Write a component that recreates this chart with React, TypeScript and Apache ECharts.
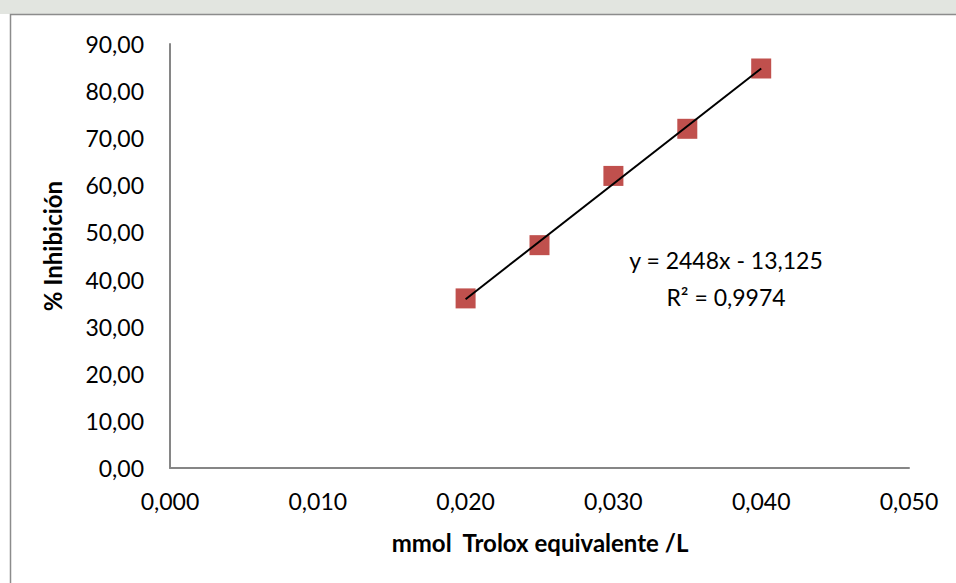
import React, { useEffect, useRef } from "react";
import * as echarts from "echarts";

// Trolox calibration: concentration (mmol/L) vs % inhibition
const concentrations = [0.02, 0.025, 0.03, 0.035, 0.04];
const inhibition = [36.0, 47.3, 62.0, 72.0, 84.8];

// Linear fit y = slope * x + intercept, as reported on the chart
const fitSlope = 2448;
const fitIntercept = -13.125;
const fitR2Label = "0,9974";

const xTicks = [0, 0.01, 0.02, 0.03, 0.04, 0.05];
const yTicks = [0, 10, 20, 30, 40, 50, 60, 70, 80, 90];

const FONT = "Lato, 'Open Sans', sans-serif";

const fmtComma = (v: number, d: number) => v.toFixed(d).replace(".", ",");

export default function App() {
  const ref = useRef<HTMLDivElement>(null);

  useEffect(() => {
    if (!ref.current) return;
    const chart = echarts.init(ref.current, null, { renderer: "svg" });

    const xMin = Math.min(...concentrations);
    const xMax = Math.max(...concentrations);
    const trend = [
      [xMin, fitSlope * xMin + fitIntercept],
      [xMax, fitSlope * xMax + fitIntercept],
    ];

    chart.setOption({
      animation: false,
      backgroundColor: "#ffffff",
      graphic: [
        // faint banner strip above the chart frame
        {
          type: "rect",
          z: -10,
          shape: { x: 0, y: 0, width: 956, height: 14 },
          style: { fill: "#e2e5e0" },
        },
        // chart frame
        {
          type: "rect",
          z: -5,
          shape: { x: 10.5, y: 14.5, width: 1000, height: 620 },
          style: { fill: "#ffffff", stroke: "#8c8c8c", lineWidth: 1.5 },
        },
        {
          type: "text",
          x: 52,
          y: 246,
          rotation: Math.PI / 2,
          style: {
            text: "% Inhibición",
            font: `bold 24px ${FONT}`,
            fill: "#000",
            align: "center",
            verticalAlign: "middle",
          },
        },
        {
          type: "text",
          x: 540,
          y: 542,
          style: {
            text: "mmol  Trolox equivalente /L",
            font: `bold 24px ${FONT}`,
            fill: "#000",
            align: "center",
            verticalAlign: "middle",
          },
        },
        {
          type: "text",
          x: 726,
          y: 260,
          style: {
            text: `y = ${fitSlope}x - ${fmtComma(-fitIntercept, 3)}`,
            font: `23px ${FONT}`,
            fill: "#000",
            align: "center",
            verticalAlign: "middle",
          },
        },
        {
          type: "text",
          x: 726,
          y: 297,
          style: {
            text: `R² = ${fitR2Label}`,
            font: `23px ${FONT}`,
            fill: "#000",
            align: "center",
            verticalAlign: "middle",
          },
        },
      ],
      grid: { left: 170, top: 44, width: 739, height: 424 },
      xAxis: {
        type: "value",
        min: xTicks[0],
        max: xTicks[xTicks.length - 1],
        interval: 0.01,
        axisLine: { show: true, lineStyle: { color: "#868686", width: 2 } },
        axisTick: { show: false },
        splitLine: { show: false },
        axisLabel: {
          margin: 21,
          color: "#000",
          fontFamily: FONT,
          fontSize: 23,
          formatter: (v: number) => fmtComma(v, 3),
        },
      },
      yAxis: {
        type: "value",
        min: yTicks[0],
        max: yTicks[yTicks.length - 1],
        interval: 10,
        axisLine: { show: true, lineStyle: { color: "#868686", width: 2 } },
        axisTick: { show: false },
        splitLine: { show: false },
        axisLabel: {
          margin: 26,
          color: "#000",
          fontFamily: FONT,
          fontSize: 23,
          formatter: (v: number) => fmtComma(v, 2),
        },
      },
      series: [
        {
          type: "scatter",
          data: concentrations.map((x, i) => [x, inhibition[i]]),
          symbol: "rect",
          symbolSize: 20,
          itemStyle: { color: "#C0504D", opacity: 1 },
          z: 2,
        },
        {
          type: "line",
          data: trend,
          symbol: "none",
          lineStyle: { color: "#000", width: 2 },
          z: 3,
        },
      ],
    });

    return () => chart.dispose();
  }, []);

  return (
    <div
      ref={ref}
      style={{ position: "fixed", left: 0, top: 0, width: 956, height: 583 }}
    />
  );
}
